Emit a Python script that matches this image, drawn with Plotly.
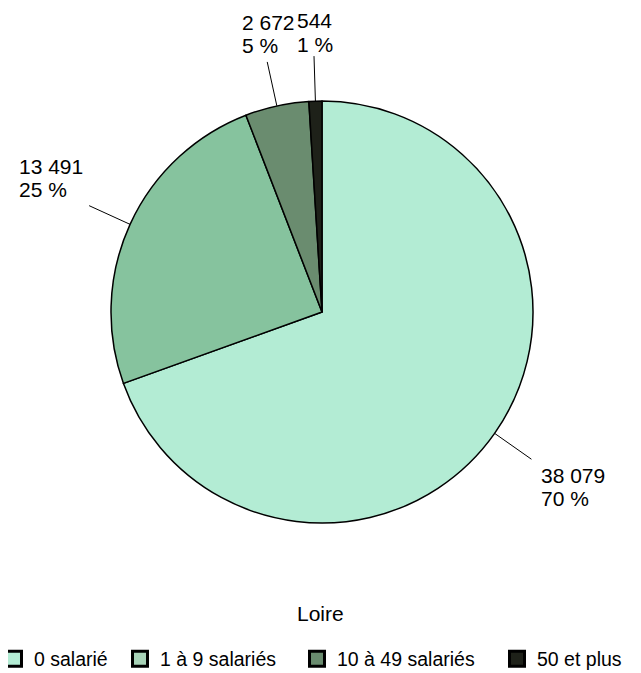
import math
import plotly.graph_objects as go

# ---- data ----
categories = ["0 salarié", "1 à 9 salariés", "10 à 49 salariés", "50 et plus"]
values = [38079, 13491, 2672, 544]
slice_colors = ["#b3ecd4", "#86c39e", "#6a8c6f", "#1e2119"]
legend_colors = ["#b3ecd4", "#a8d3b8", "#6a8c6f", "#1e2119"]
title_text = "Loire"

WIN_W, WIN_H = 641, 673
OFF = 8                      # page body margin
W, H = WIN_W - OFF, WIN_H - OFF
CX, CY, R = 322, 312, 211    # pie centre / radius (window pixels)
LINE_LEN = 45
LBL_SIZE = 21
LEG_SIZE = 19.5
VSHIFT = 3                   # caps-centre vs text-box centre correction
FONT = "Liberation Sans, Arial, sans-serif"
CHAR_W = {" ": 0.278, "%": 0.889}


def fr(n):
    return f"{n:,}".replace(",", " ")


def text_w(t, size):
    return sum(CHAR_W.get(ch, 0.556) for ch in t) * size


def px(x, y):
    return (x - OFF) / W, 1 - (y - OFF) / H


fig = go.Figure()

fig.add_trace(go.Pie(
    labels=categories, values=values, sort=False, direction="clockwise", rotation=0,
    marker=dict(colors=slice_colors, line=dict(color="black", width=1.5)),
    textinfo="none", hoverinfo="label+value+percent", showlegend=False,
    domain=dict(x=[px(CX - R, 0)[0], px(CX + R, 0)[0]],
                y=[px(0, CY + R)[1], px(0, CY - R)[1]]),
))

legend_left_px = [12, 138, 315, 515]
layout_legends = {}
for i, (cat, col) in enumerate(zip(categories, legend_colors)):
    key = "legend" if i == 0 else f"legend{i + 1}"
    fig.add_trace(go.Scatter(
        x=[None], y=[None], mode="markers", name=cat, legend=key,
        marker=dict(symbol="square", size=15, color=col, line=dict(color="black", width=3)),
    ))
    lx, ly = px(legend_left_px[i] - 18, 659)
    layout_legends[key] = dict(
        x=lx, xanchor="left", y=ly, yanchor="middle", orientation="h",
        font=dict(size=LEG_SIZE, color="black", family=FONT), itemclick=False,
        bgcolor="rgba(0,0,0,0)", borderwidth=0,
    )

total = sum(values)
cum = 0
annotations = []
shapes = []
for v in values:
    frac = v / total
    mid = cum + frac / 2
    cum += frac
    ang = math.radians(90 - mid * 360)
    c, s = math.cos(ang), math.sin(ang)
    x0, y0 = CX + R * c, CY - R * s
    x1, y1 = CX + (R + LINE_LEN) * c, CY - (R + LINE_LEN) * s
    p0, p1 = px(x0, y0), px(x1, y1)
    shapes.append(dict(type="line", xref="paper", yref="paper",
                       x0=p0[0], y0=p0[1], x1=p1[0], y1=p1[1],
                       line=dict(color="black", width=1)))
    lines = [fr(v), f"{round(frac * 100)} %"]
    bw = max(text_w(t, LBL_SIZE) for t in lines)
    if c > 0.3:
        left = x1 + 9
    elif c < -0.3:
        left = x1 - 7 - bw
    else:
        left = x1 - bw / 2
    if s < -0.3:
        ys = [y1 + 13, y1 + 36]
    else:
        top = max(y1 - 42, 18)
        ys = [top, top + 23]
    for t, yy in zip(lines, ys):
        ax, ay = px(left, yy + VSHIFT)
        annotations.append(dict(
            x=ax, y=ay, xref="paper", yref="paper", showarrow=False,
            text=t, xanchor="left", yanchor="middle", borderpad=0,
            font=dict(size=LBL_SIZE, color="black", family=FONT),
        ))

tx, ty = px(320, 611 + 2)
annotations.append(dict(
    x=tx, y=ty, xref="paper", yref="paper", showarrow=False,
    text=title_text, xanchor="center", yanchor="middle",
    font=dict(size=21, color="black", family=FONT),
))

fig.update_layout(
    width=W, height=H,
    margin=dict(l=0, r=0, t=0, b=0, autoexpand=False),
    paper_bgcolor="white", plot_bgcolor="white",
    xaxis=dict(visible=False), yaxis=dict(visible=False),
    font=dict(family=FONT, size=LEG_SIZE, color="black"),
    shapes=shapes, annotations=annotations,
    **layout_legends,
)

fig.write_html("out.html")
